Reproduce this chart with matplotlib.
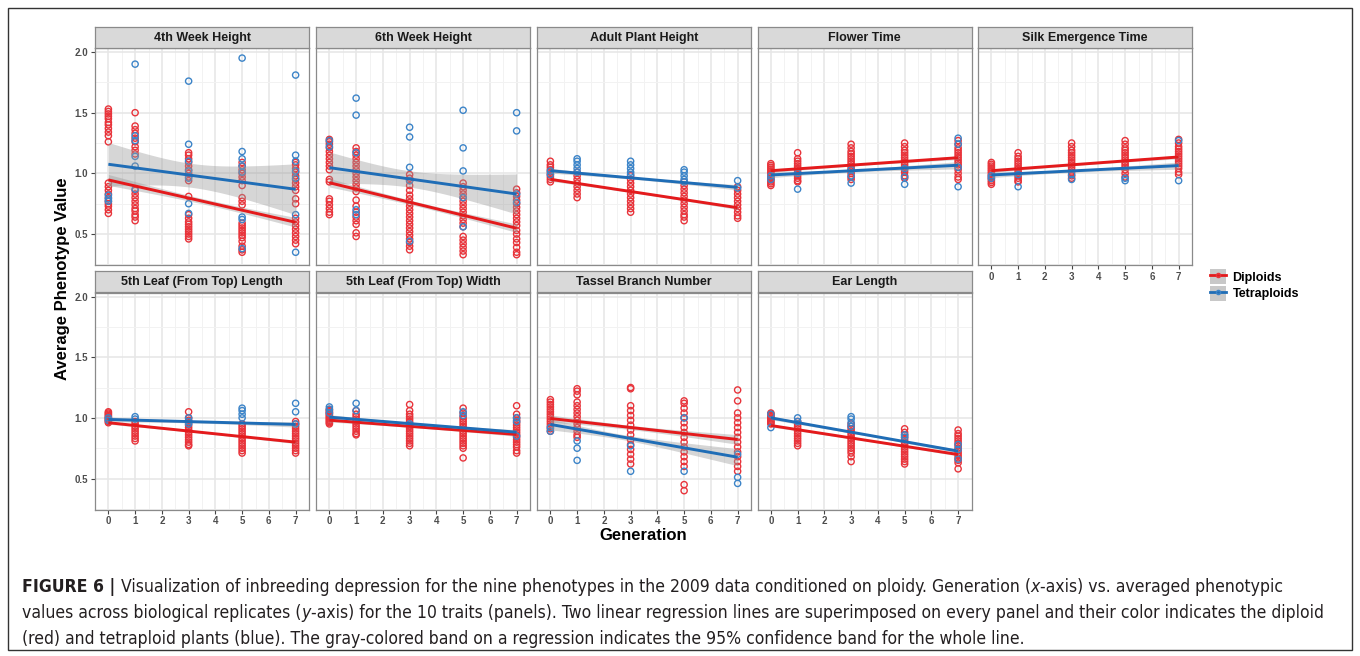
import numpy as np
import matplotlib
matplotlib.use("Agg")
import matplotlib.pyplot as plt
from matplotlib.patches import Rectangle, Patch
from matplotlib.lines import Line2D
from matplotlib import font_manager
from matplotlib.font_manager import FontProperties

# ---------------- data ----------------
GENERATIONS = [0, 1, 3, 5, 7]
TRAITS = ["4th Week Height", "6th Week Height", "Adult Plant Height", "Flower Time",
          "Silk Emergence Time", "5th Leaf (From Top) Length", "5th Leaf (From Top) Width",
          "Tassel Branch Number", "Ear Length"]
GROUPS = ["Diploids", "Tetraploids"]
Y_TICKS = [0.5, 1.0, 1.5, 2.0]
Y_TICK_LABELS = ["0.5", "1.0", "1.5", "2.0"]
X_TICKS = [0, 1, 2, 3, 4, 5, 6, 7]

# averaged phenotype values, one list per generation (0, 1, 3, 5, 7)
wk4_dip = [[1.53, 1.51, 1.49, 1.47, 1.45, 1.42, 1.40, 1.37, 1.34, 1.31, 1.26, 0.92, 0.89, 0.86, 0.83, 0.80, 0.77, 0.75, 0.73, 0.70, 0.67],
           [1.50, 1.39, 1.36, 1.33, 1.29, 1.26, 1.22, 1.19, 1.16, 0.86, 0.83, 0.80, 0.77, 0.74, 0.71, 0.69, 0.66, 0.64, 0.61],
           [1.17, 1.15, 1.12, 1.09, 1.06, 1.03, 1.00, 0.97, 0.94, 0.81, 0.66, 0.63, 0.60, 0.58, 0.56, 0.54, 0.52, 0.50, 0.48, 0.46],
           [1.09, 1.06, 1.03, 1.00, 0.97, 0.94, 0.90, 0.80, 0.77, 0.74, 0.59, 0.57, 0.55, 0.53, 0.51, 0.49, 0.47, 0.44, 0.40, 0.37, 0.35],
           [1.09, 1.07, 1.04, 1.01, 0.98, 0.95, 0.92, 0.89, 0.86, 0.79, 0.75, 0.63, 0.60, 0.57, 0.54, 0.51, 0.48, 0.45, 0.42]]
wk4_tet = [[0.79, 0.77, 0.82], [1.90, 1.31, 1.27, 1.14, 1.06, 0.87],
           [1.76, 1.24, 1.10, 1.02, 0.96, 0.75, 0.67], [1.95, 1.18, 1.12, 1.06, 1.01, 0.64, 0.62, 0.38],
           [1.81, 1.15, 1.10, 1.02, 0.96, 0.66, 0.35]]

wk6_dip = [[1.28, 1.26, 1.24, 1.21, 1.18, 1.15, 1.12, 1.09, 1.06, 1.03, 0.95, 0.93, 0.79, 0.77, 0.74, 0.71, 0.68, 0.66],
           [1.21, 1.18, 1.15, 1.12, 1.09, 1.06, 1.03, 1.00, 0.97, 0.94, 0.91, 0.88, 0.85, 0.78, 0.73, 0.68, 0.64, 0.61, 0.58, 0.51, 0.48],
           [0.99, 0.96, 0.94, 0.90, 0.86, 0.82, 0.79, 0.76, 0.73, 0.70, 0.67, 0.64, 0.61, 0.58, 0.55, 0.52, 0.49, 0.46, 0.43, 0.40, 0.37],
           [0.92, 0.89, 0.86, 0.83, 0.80, 0.77, 0.74, 0.71, 0.68, 0.65, 0.62, 0.59, 0.56, 0.48, 0.45, 0.42, 0.39, 0.36, 0.33],
           [0.87, 0.84, 0.81, 0.78, 0.75, 0.72, 0.69, 0.66, 0.63, 0.60, 0.57, 0.53, 0.50, 0.46, 0.43, 0.39, 0.35, 0.33]]
wk6_tet = [[1.27, 1.22], [1.62, 1.48, 1.17, 0.70, 0.66], [1.38, 1.30, 1.05, 0.94, 0.44],
           [1.52, 1.21, 1.02, 0.80, 0.56], [1.50, 1.35, 0.83, 0.76]]

aph_dip = [[1.10, 1.07, 1.05, 1.03, 1.01, 0.99, 0.97, 0.95, 0.93],
           [1.01, 0.98, 0.95, 0.92, 0.89, 0.86, 0.83, 0.80],
           [0.98, 0.95, 0.92, 0.89, 0.86, 0.83, 0.80, 0.77, 0.74, 0.71, 0.68],
           [0.93, 0.90, 0.87, 0.84, 0.81, 0.78, 0.75, 0.72, 0.69, 0.66, 0.64, 0.61],
           [0.89, 0.86, 0.83, 0.80, 0.77, 0.74, 0.71, 0.68, 0.65, 0.63]]
aph_tet = [[1.02, 0.99], [1.12, 1.10, 1.07, 1.04, 1.01], [1.10, 1.07, 1.04, 1.01, 0.99],
           [1.03, 1.01, 0.98, 0.95, 0.93], [0.94, 0.88]]

flw_dip = [[1.08, 1.065, 1.05, 1.035, 1.02, 1.005, 0.99, 0.975, 0.96, 0.945, 0.93, 0.915, 0.90],
           [1.17, 1.12, 1.10, 1.08, 1.06, 1.04, 1.02, 1.00, 0.98, 0.96, 0.94, 0.93],
           [1.24, 1.21, 1.18, 1.16, 1.14, 1.12, 1.10, 1.08, 1.06, 1.04, 1.02, 1.00, 0.97, 0.95],
           [1.25, 1.22, 1.19, 1.17, 1.15, 1.13, 1.11, 1.09, 1.07, 1.05, 1.03, 1.01, 0.98, 0.96],
           [1.27, 1.24, 1.21, 1.19, 1.17, 1.15, 1.13, 1.11, 1.09, 1.07, 1.05, 1.03, 1.00, 0.97, 0.95]]
flw_tet = [[0.98, 0.95], [0.87, 1.00], [0.92, 0.98, 1.03], [0.91, 0.97, 1.04], [1.29, 1.24, 0.89, 1.05]]

silk_dip = [[1.09, 1.075, 1.06, 1.045, 1.03, 1.015, 1.00, 0.985, 0.97, 0.955, 0.94, 0.925, 0.91],
            [1.17, 1.14, 1.12, 1.10, 1.08, 1.06, 1.04, 1.02, 1.00, 0.98, 0.96, 0.94, 0.93],
            [1.25, 1.22, 1.19, 1.17, 1.15, 1.13, 1.11, 1.09, 1.07, 1.05, 1.03, 1.01, 0.98, 0.96],
            [1.27, 1.24, 1.21, 1.19, 1.17, 1.15, 1.13, 1.11, 1.09, 1.07, 1.05, 1.03, 1.00, 0.97],
            [1.28, 1.25, 1.22, 1.20, 1.18, 1.16, 1.14, 1.12, 1.10, 1.08, 1.06, 1.04, 1.01, 0.99]]
silk_tet = [[0.98, 0.96], [0.89, 0.99], [0.95, 0.99], [0.94, 0.96], [0.94, 1.27]]

l5l_dip = [[1.05, 1.04, 1.03, 1.02, 1.01, 1.00, 0.99, 0.98, 0.97, 0.96],
           [0.97, 0.95, 0.93, 0.91, 0.89, 0.87, 0.85, 0.83, 0.81],
           [1.05, 1.00, 0.98, 0.96, 0.94, 0.92, 0.90, 0.88, 0.86, 0.84, 0.82, 0.80, 0.78, 0.77],
           [0.95, 0.93, 0.91, 0.89, 0.87, 0.85, 0.83, 0.81, 0.79, 0.77, 0.75, 0.73, 0.71],
           [0.97, 0.95, 0.93, 0.91, 0.89, 0.87, 0.85, 0.83, 0.81, 0.79, 0.77, 0.75, 0.73, 0.71]]
l5l_tet = [[1.00, 0.98], [1.01, 0.99], [1.00, 0.97, 0.95], [1.08, 1.06, 1.03, 1.00], [1.12, 1.05, 0.95]]

l5w_dip = [[1.07, 1.06, 1.05, 1.04, 1.03, 1.02, 1.01, 1.00, 0.99, 0.98, 0.97, 0.96, 0.95],
           [1.06, 1.03, 1.01, 0.99, 0.97, 0.95, 0.93, 0.91, 0.89, 0.87, 0.86],
           [1.11, 1.06, 1.03, 1.01, 0.99, 0.97, 0.95, 0.93, 0.91, 0.89, 0.87, 0.85, 0.83, 0.81, 0.79, 0.77],
           [1.08, 1.04, 1.01, 0.99, 0.97, 0.95, 0.93, 0.91, 0.89, 0.87, 0.85, 0.83, 0.81, 0.79, 0.77, 0.75, 0.67],
           [1.10, 1.03, 1.00, 0.98, 0.96, 0.94, 0.92, 0.90, 0.88, 0.86, 0.84, 0.82, 0.80, 0.78, 0.76, 0.73, 0.71]]
l5w_tet = [[1.09, 1.07, 1.04], [1.12, 1.06], [0.95], [1.05, 1.02], [1.00, 0.97, 0.85]]

tbn_dip = [[1.15, 1.13, 1.11, 1.09, 1.07, 1.05, 1.03, 1.01, 0.99, 0.97, 0.95, 0.93, 0.91, 0.89],
           [1.24, 1.22, 1.19, 1.13, 1.10, 1.07, 1.04, 1.01, 0.98, 0.95, 0.92, 0.89, 0.86, 0.84],
           [1.25, 1.24, 1.10, 1.06, 1.02, 0.98, 0.94, 0.90, 0.86, 0.82, 0.78, 0.74, 0.70, 0.66, 0.62],
           [1.14, 1.12, 1.08, 1.04, 1.00, 0.96, 0.92, 0.88, 0.84, 0.80, 0.76, 0.72, 0.68, 0.64, 0.60, 0.45, 0.40],
           [1.23, 1.14, 1.04, 1.00, 0.96, 0.92, 0.88, 0.84, 0.80, 0.76, 0.72, 0.68, 0.64, 0.60, 0.56]]
tbn_tet = [[0.89, 0.92], [0.81, 0.75, 0.65], [0.77, 0.56], [1.00, 0.56], [0.51, 0.46, 0.70]]

ear_dip = [[1.04, 1.03, 1.02, 1.01, 1.00, 0.99, 0.98, 0.97, 0.96, 0.95],
           [0.97, 0.95, 0.93, 0.91, 0.89, 0.87, 0.85, 0.83, 0.81, 0.79, 0.77],
           [0.95, 0.93, 0.91, 0.89, 0.87, 0.85, 0.83, 0.81, 0.79, 0.77, 0.75, 0.73, 0.71, 0.68, 0.64],
           [0.91, 0.88, 0.86, 0.84, 0.82, 0.80, 0.78, 0.76, 0.74, 0.72, 0.70, 0.68, 0.66, 0.64, 0.62],
           [0.90, 0.87, 0.85, 0.83, 0.81, 0.79, 0.77, 0.75, 0.73, 0.71, 0.69, 0.67, 0.65, 0.63, 0.58]]
ear_tet = [[1.03, 0.92], [1.00, 0.97], [1.01, 0.99, 0.96, 0.93], [0.86, 0.84], [0.78, 0.74, 0.66]]

DIP_POINTS = [wk4_dip, wk6_dip, aph_dip, flw_dip, silk_dip, l5l_dip, l5w_dip, tbn_dip, ear_dip]
TET_POINTS = [wk4_tet, wk6_tet, aph_tet, flw_tet, silk_tet, l5l_tet, l5w_tet, tbn_tet, ear_tet]

# fitted regression values at generation 0 and generation 7
DIP_FIT_G0 = [0.946, 0.923, 0.951, 1.022, 1.022, 0.960, 0.981, 0.995, 0.937]
DIP_FIT_G7 = [0.597, 0.548, 0.717, 1.129, 1.135, 0.800, 0.863, 0.822, 0.698]
TET_FIT_G0 = [1.075, 1.047, 1.022, 0.987, 0.987, 0.987, 1.006, 0.946, 1.000]
TET_FIT_G7 = [0.869, 0.830, 0.885, 1.067, 1.064, 0.946, 0.882, 0.676, 0.726]
# 95% confidence half-widths at generation 0, 3.5 and 7
DIP_CI = [[0.045, 0.022, 0.040], [0.035, 0.018, 0.035], [0.015, 0.008, 0.015],
          [0.015, 0.008, 0.015], [0.015, 0.008, 0.015], [0.012, 0.007, 0.012],
          [0.015, 0.008, 0.015], [0.030, 0.018, 0.040], [0.012, 0.007, 0.012]]
TET_CI = [[0.180, 0.100, 0.210], [0.130, 0.070, 0.165], [0.020, 0.010, 0.022],
          [0.022, 0.012, 0.030], [0.022, 0.012, 0.030], [0.020, 0.010, 0.022],
          [0.020, 0.010, 0.020], [0.045, 0.025, 0.070], [0.015, 0.008, 0.015]]

# ---------------- style ----------------
W, H = 1360, 656
RED_PT, BLUE_PT = "#E8343B", "#3C84C8"
RED_LN, BLUE_LN = "#E41A1C", "#1F6DB6"
BAND = "#999999"

plt.rcParams["font.family"] = ["Liberation Sans", "DejaVu Sans"]

fig = plt.figure(figsize=(W / 100, H / 100), dpi=100)


def px_axes(x, y, w, h, **kw):
    return fig.add_axes([x / W, 1 - (y + h) / H, w / W, h / H], **kw)


PANEL_X = [95, 316, 537, 757.5, 978]
PANEL_W = 214
ROW_TOP = [48, 292.5]
PANEL_H = 217
STRIP_H = 21

for i, trait in enumerate(TRAITS):
    r, c = divmod(i, 5)
    x0, y0 = PANEL_X[c], ROW_TOP[r]
    ax = px_axes(x0, y0, PANEL_W, PANEL_H)
    ax.set_facecolor("white")
    ax.set_xlim(-0.35, 7.35)
    ax.set_ylim(0.245, 2.033)
    ax.set_xticks(X_TICKS)
    ax.set_xticks(np.arange(-0.5, 7.6, 1.0), minor=True)
    ax.set_yticks(Y_TICKS)
    ax.set_yticks([0.25, 0.75, 1.25, 1.75], minor=True)
    ax.grid(True, which="major", color="#E6E6E6", lw=1.1, zorder=0)
    ax.grid(True, which="minor", color="#F2F2F2", lw=0.7, zorder=0)
    ax.set_axisbelow(True)
    for s in ax.spines.values():
        s.set_color("#8A8A8A")
        s.set_linewidth(0.9)
    ax.tick_params(which="minor", length=0)
    ax.tick_params(which="major", length=3, width=0.8, color="#444444",
                   labelsize=7, labelcolor="#4D4D4D", pad=2)
    show_x = (r == 1) or (c == 4)
    show_y = (c == 0)
    ax.tick_params(axis="x", bottom=show_x, labelbottom=show_x)
    ax.tick_params(axis="y", left=show_y, labelleft=show_y)
    if show_x:
        ax.set_xticklabels([str(v) for v in X_TICKS], fontweight="bold")
    if show_y:
        ax.set_yticklabels(Y_TICK_LABELS, fontweight="bold")

    # points
    for pts, col in ((DIP_POINTS[i], RED_PT), (TET_POINTS[i], BLUE_PT)):
        xs = np.concatenate([[g] * len(v) for g, v in zip(GENERATIONS, pts)])
        ys = np.concatenate(pts)
        ax.scatter(xs, ys, s=20, facecolors="none", edgecolors=col, linewidths=1.0, zorder=2)

    # regression lines with confidence bands
    xx = np.linspace(0, 7, 60)
    for g0, g7, ci, col in ((DIP_FIT_G0[i], DIP_FIT_G7[i], DIP_CI[i], RED_LN),
                            (TET_FIT_G0[i], TET_FIT_G7[i], TET_CI[i], BLUE_LN)):
        yy = np.interp(xx, [0, 7], [g0, g7])
        coef = np.polyfit([0, 3.5, 7], np.square(ci), 2)
        hw = np.sqrt(np.clip(np.polyval(coef, xx), 0, None))
        ax.fill_between(xx, yy - hw, yy + hw, color=BAND, alpha=0.4, lw=0, zorder=3)
        ax.plot([0, 7], [g0, g7], color=col, lw=2.1, zorder=4, solid_capstyle="butt")

    # strip
    sax = px_axes(x0, y0 - STRIP_H, PANEL_W, STRIP_H)
    sax.set_facecolor("#D9D9D9")
    sax.set_xticks([]); sax.set_yticks([])
    for s in sax.spines.values():
        s.set_color("#8A8A8A")
        s.set_linewidth(0.9)
    sax.text(0.5, 0.48, trait, ha="center", va="center", fontsize=9,
             fontweight="bold", color="#1A1A1A", transform=sax.transAxes)

# axis titles
fig.text(643 / W, 1 - 535 / H, "Generation", ha="center", va="center",
         fontsize=12, fontweight="bold", color="black")
fig.text(62 / W, 1 - 279 / H, "Average Phenotype Value", ha="center", va="center",
         rotation=90, fontsize=12, fontweight="bold", color="black")

# legend
handles = [(Patch(facecolor="#C8C8C8", edgecolor="none"),
            Line2D([], [], color=RED_LN, lw=2, marker="o", markersize=3,
                   markerfacecolor="none", markeredgecolor=RED_PT)),
           (Patch(facecolor="#C8C8C8", edgecolor="none"),
            Line2D([], [], color=BLUE_LN, lw=2, marker="o", markersize=3,
                   markerfacecolor="none", markeredgecolor=BLUE_PT))]
fig.legend(handles, GROUPS, loc="upper left", bbox_to_anchor=(1210 / W, 1 - 269 / H),
           frameon=False, prop={"weight": "bold", "size": 9}, handlelength=1.25,
           handleheight=1.45, labelspacing=0.15, handletextpad=0.55, borderpad=0,
           borderaxespad=0)

# outer frame
fig.add_artist(Rectangle((8 / W, 1 - 650 / H), 1344 / W, 642 / H, transform=fig.transFigure,
                         fill=False, edgecolor="#333333", lw=1.0))

# caption
names = {f.name for f in font_manager.fontManager.ttflist}
if "Liberation Sans Narrow" in names:
    CAP_FAMILY, CAP_STRETCH = "Liberation Sans Narrow", "normal"
else:
    CAP_FAMILY, CAP_STRETCH = "DejaVu Sans", "condensed"
CAP_COLOR = "#231F20"
caption_lines = [
    [("FIGURE 6 | ", "bold", "normal"),
     ("Visualization of inbreeding depression for the nine phenotypes in the 2009 data conditioned on ploidy. Generation (", "normal", "normal"),
     ("x", "normal", "italic"), ("-axis) vs. averaged phenotypic", "normal", "normal")],
    [("values across biological replicates (", "normal", "normal"), ("y", "normal", "italic"),
     ("-axis) for the 10 traits (panels). Two linear regression lines are superimposed on every panel and their color indicates the diploid", "normal", "normal")],
    [("(red) and tetraploid plants (blue). The gray-colored band on a regression indicates the 95% confidence band for the whole line.", "normal", "normal")],
]
renderer = fig.canvas.get_renderer()


def draw_line(segs, x_px, base_px, size):
    arts = []
    x = x_px
    for txt, wt, st in segs:
        fp = FontProperties(family=CAP_FAMILY, stretch=CAP_STRETCH, weight=wt,
                            style=st, size=size)
        t = fig.text(x / W, 1 - base_px / H, txt, ha="left", va="baseline",
                     fontproperties=fp, color=CAP_COLOR)
        bb = t.get_window_extent(renderer)
        x += bb.width
        arts.append(t)
    return arts, x - x_px


tmp, width = draw_line(caption_lines[0], 22, 594, 12)
for a in tmp:
    a.remove()
cap_size = 12 * 1268 / width
for segs, base in zip(caption_lines, [592, 618, 644]):
    draw_line(segs, 22, base, cap_size)

fig.savefig("out.png", dpi=100)
